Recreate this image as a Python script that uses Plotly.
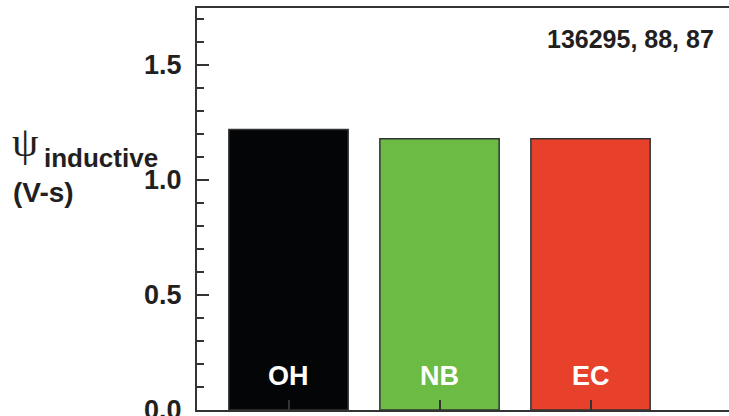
import plotly.graph_objects as go

# Inductive flux consumption per heating scheme
categories = ["OH", "NB", "EC"]
psi_inductive = [1.22, 1.18, 1.18]
bar_colors = ["#030507", "#6cbb45", "#e8412b"]
y_ticks = [0.0, 0.5, 1.0, 1.5]
shot_label = "136295, 88, 87"

FONT = "Liberation Sans, Arial, Helvetica, sans-serif"
INK = "#231f20"
AXIS = "#333333"

fig = go.Figure()
fig.add_trace(go.Bar(
    x=categories,
    y=psi_inductive,
    width=0.79,
    marker=dict(color=bar_colors, line=dict(color=AXIS, width=1.5)),
    showlegend=False,
    hoverinfo="x+y",
))

# Category names written in white near the base of each bar
for cat in categories:
    fig.add_annotation(
        x=cat, y=0, xref="x", yref="y",
        text=f"<b>{cat}</b>", showarrow=False,
        yanchor="middle", yshift=34,
        font=dict(family=FONT, size=27, color="white"),
    )

# Shot numbers in the upper right corner
fig.add_annotation(
    x=1, y=1, xref="paper", yref="paper",
    text=f"<b>{shot_label}</b>", showarrow=False,
    xanchor="right", yanchor="middle", xshift=-13, yshift=-31,
    font=dict(family=FONT, size=25, color=INK),
)

# Axis title: psi with "inductive" subscript, units underneath
fig.add_annotation(
    x=0, y=(410 - 142) / 402, xref="paper", yref="paper",
    text="ψ", showarrow=False, xanchor="left", yanchor="middle", xshift=-187,
    font=dict(family="Liberation Serif, DejaVu Serif, serif", size=42, color=INK),
)
fig.add_annotation(
    x=0, y=(410 - 158) / 402, xref="paper", yref="paper",
    text="<b>inductive</b>", showarrow=False, xanchor="left", yanchor="middle", xshift=-155,
    font=dict(family=FONT, size=26, color=INK),
)
fig.add_annotation(
    x=0, y=(410 - 192) / 402, xref="paper", yref="paper",
    text="<b>(V-s)</b>", showarrow=False, xanchor="left", yanchor="middle", xshift=-186,
    font=dict(family=FONT, size=28, color=INK),
)

y_range = [0, 1.748]

fig.update_layout(
    width=729, height=416,
    margin=dict(l=197, r=0, t=8, b=6),
    paper_bgcolor="white", plot_bgcolor="white",
    xaxis=dict(
        type="category",
        range=[-0.606, 2.917],
        automargin=False,
        showticklabels=False,
        ticks="inside", ticklen=10, tickwidth=2, tickcolor=AXIS,
        showline=True, linecolor=AXIS, linewidth=2, mirror=True,
        showgrid=False, zeroline=False,
    ),
    yaxis=dict(
        range=y_range,
        automargin=False,
        tickvals=y_ticks,
        tickformat=".1f",
        ticks="inside", ticklen=12, tickwidth=2, tickcolor=AXIS,
        minor=dict(dtick=0.1, tick0=0, ticks="inside", ticklen=7, tickwidth=2, tickcolor=AXIS),
        showline=True, linecolor=AXIS, linewidth=2, mirror=False,
        showgrid=False, zeroline=False,
        ticklabelstandoff=8,
        ticklabeloverflow="allow",
        tickfont=dict(family=FONT, size=27, color=INK, weight="bold"),
    ),
    yaxis2=dict(
        range=y_range,
        automargin=False,
        overlaying="y", side="right", anchor="x",
        tickvals=y_ticks,
        ticks="inside", ticklen=4, tickwidth=2, tickcolor=AXIS,
        showticklabels=False, showline=False,
        showgrid=False, zeroline=False,
    ),
)

fig.write_html("out.html")
